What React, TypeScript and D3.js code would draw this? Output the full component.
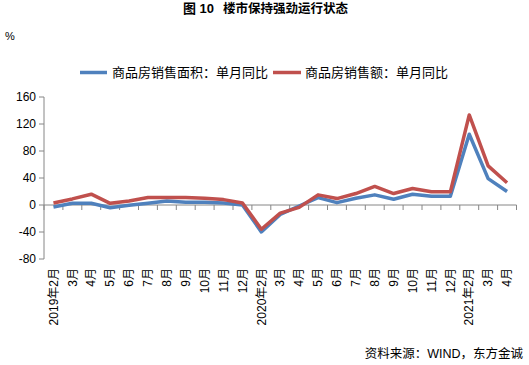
import React from "react";
import * as d3 from "d3";

const categories = [
  "2019年2月", "3月", "4月", "5月", "6月", "7月", "8月", "9月", "10月", "11月", "12月",
  "2020年2月", "3月 ", "4月 ", "5月 ", "6月 ", "7月 ", "8月 ", "9月 ", "10月 ", "11月 ", "12月 ",
  "2021年2月", "3月  ", "4月  ",
];
const areaYoY = [-3, 2.5, 2.5, -4, -0.5, 2.5, 6, 4, 4, 3, 0, -39.9, -14, -1.5, 11, 3.5, 10, 15, 8.5, 16, 13, 13, 104.9, 39, 20];
const amountYoY = [3, 9, 16, 2.5, 6, 11, 11, 11, 10, 8, 3, -35.9, -12, -3.5, 15, 9.5, 17, 27.5, 17, 24.5, 19.5, 19.5, 133.4, 58, 33];
const yTicks = [-80, -40, 0, 40, 80, 120, 160];
const seriesNames = ["商品房销售面积：单月同比", "商品房销售额：单月同比"];

const W = 529, H = 365;
const FONT = "'Liberation Sans', 'Noto Sans CJK SC', sans-serif";
const BLUE = "#4F81BD", RED = "#C0504D", AXIS = "#868686";

export default function App() {
  const x = d3.scaleBand<string>().domain(categories).range([44, 516.5]);
  const y = d3.scaleLinear().domain([-80, 160]).range([259, 97]);
  const cx = (c: string) => (x(c) as number) + x.bandwidth() / 2;
  const line = d3.line<number>().x((_, i) => cx(categories[i])).y((v) => y(v));
  const bounds = d3.range(categories.length + 1).map((i) => 44 + i * x.bandwidth());

  return (
    <svg width={W} height={H} style={{ position: "absolute", left: 0, top: 0, background: "#fff" }} fontFamily={FONT}>
      <text x={183} y={12.5} fontSize={13} fontWeight="bold" fill="#000">图 10</text>
      <text x={223} y={12.5} fontSize={12.5} fontWeight="bold" fill="#000">楼市保持强劲运行状态</text>
      <text x={5} y={40} fontSize={11} fill="#000">%</text>
      {/* legend */}
      <line x1={80} x2={107} y1={72.5} y2={72.5} stroke={BLUE} strokeWidth={3.5} />
      <text x={112} y={77} fontSize={13} fill="#000">{seriesNames[0]}</text>
      <line x1={273} x2={301} y1={72.5} y2={72.5} stroke={RED} strokeWidth={3.5} />
      <text x={305} y={77} fontSize={13} fill="#000">{seriesNames[1]}</text>
      {/* y axis */}
      <line x1={44} x2={44} y1={y(160)} y2={y(-80)} stroke={AXIS} strokeWidth={1} />
      {yTicks.map((t) => (
        <g key={t}>
          <line x1={39} x2={44} y1={y(t)} y2={y(t)} stroke={AXIS} />
          <text x={36} y={y(t)} dy="0.35em" textAnchor="end" fontSize={12} fill="#000">{t}</text>
        </g>
      ))}
      {/* x axis at 0 */}
      <line x1={44} x2={516.5} y1={y(0)} y2={y(0)} stroke={AXIS} />
      {bounds.map((b, i) => (
        <line key={i} x1={b} x2={b} y1={y(0)} y2={y(0) + 5} stroke={AXIS} />
      ))}
      {categories.map((c) => (
        <text key={c} transform={`translate(${cx(c)},268) rotate(-90)`} textAnchor="end" dy="0.35em" fontSize={12} fill="#000">
          {c.trim()}
        </text>
      ))}
      <path d={line(areaYoY) as string} fill="none" stroke={BLUE} strokeWidth={3.5} strokeLinejoin="round" />
      <path d={line(amountYoY) as string} fill="none" stroke={RED} strokeWidth={3.5} strokeLinejoin="round" />
      <text x={523} y={358} textAnchor="end" fontSize={12.5} fill="#000">资料来源：WIND，东方金诚</text>
    </svg>
  );
}
